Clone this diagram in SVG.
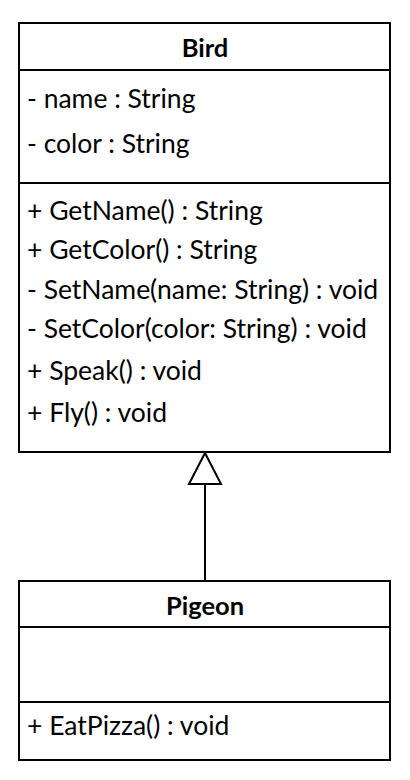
<svg xmlns="http://www.w3.org/2000/svg" width="410" height="780" viewBox="0 0 410 780">
<style>
.box{fill:#fff;stroke:#000;stroke-width:2}
.div{stroke:#000;stroke-width:2}
.t{font-family:Lato,"Open Sans","Liberation Sans",sans-serif;font-size:26.5px;fill:#000}
.h{font-family:Lato,"Open Sans","Liberation Sans",sans-serif;font-size:25.5px;font-weight:bold;fill:#000;text-anchor:middle}
</style>
<rect width="410" height="780" fill="#fff"/>
<g id="Bird">
<rect class="box" x="19" y="23" width="371" height="429"/>
<line class="div" x1="19" y1="70" x2="390" y2="70"/>
<line class="div" x1="19" y1="183" x2="390" y2="183"/>
<text class="h" x="205" y="57">Bird</text>
<text class="t" x="27" y="108">- name : String</text>
<text class="t" x="27" y="153">- color : String</text>
<text class="t" x="27" y="220">+ GetName() : String</text>
<text class="t" x="27" y="259">+ GetColor() : String</text>
<text class="t" x="27" y="299">- SetName(name: String) : void</text>
<text class="t" x="27" y="338">- SetColor(color: String) : void</text>
<text class="t" x="27" y="380">+ Speak() : void</text>
<text class="t" x="27" y="422">+ Fly() : void</text>
</g>
<g id="Pigeon">
<rect class="box" x="19" y="581" width="371" height="179"/>
<line class="div" x1="19" y1="627" x2="390" y2="627"/>
<line class="div" x1="19" y1="702" x2="390" y2="702"/>
<text class="h" x="205" y="615">Pigeon</text>
<text class="t" x="27" y="735">+ EatPizza() : void</text>
</g>
<g id="connectors">
<line x1="205" y1="581" x2="205" y2="484" stroke="#000" stroke-width="2"/>
<polygon points="205,453 221,484 189,484" fill="#fff" stroke="#000" stroke-width="2"/>
</g>
</svg>
